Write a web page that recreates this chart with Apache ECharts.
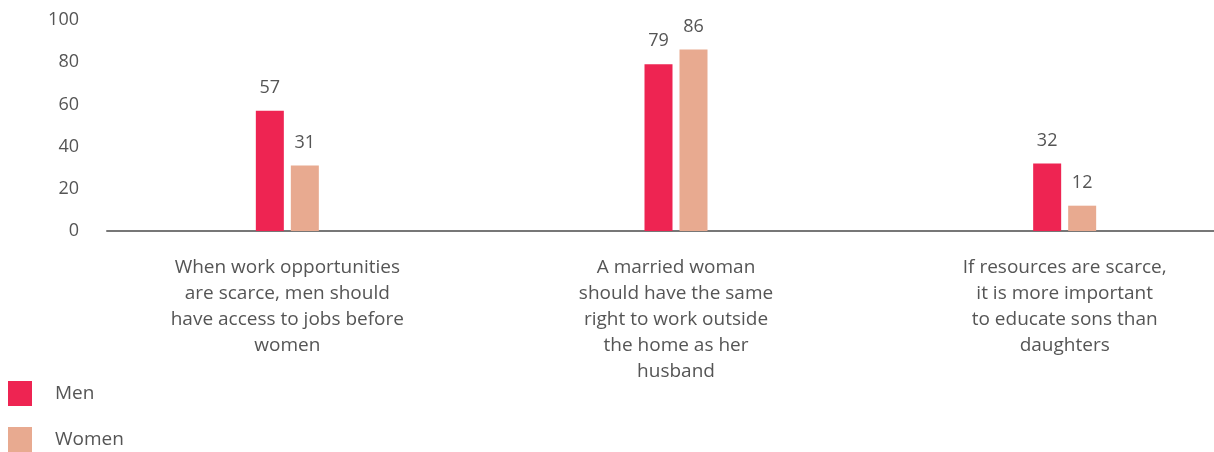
<!DOCTYPE html>
<html><head><meta charset="utf-8">
<script src="https://cdn.jsdelivr.net/npm/echarts@6/dist/echarts.min.js"></script>
<style>html,body{margin:0;padding:0;background:#fff}#c{width:1214px;height:452px}</style>
</head><body><div id="c"></div>
<script>
const categories = [
  "When work opportunities\nare scarce, men should\nhave access to jobs before\nwomen",
  "A married woman\nshould have the same\nright to work outside\nthe home as her\nhusband",
  "If resources are scarce,\nit is more important\nto educate sons than\ndaughters"
];
const menValues = [57, 79, 32];
const womenValues = [31, 86, 12];
const seriesNames = ["Men", "Women"];
const yTicks = { min: 0, max: 100, interval: 20 };

const FONT = "Open Sans";
const TXT = "#555555";
const chart = echarts.init(document.getElementById('c'));
chart.setOption({
  animation: false,
  textStyle: { fontFamily: FONT },
  legend: {
    orient: 'vertical', left: 8, top: 381, padding: 0,
    itemWidth: 24, itemHeight: 25, itemGap: 21,
    icon: 'rect',
    textStyle: { fontFamily: FONT, fontSize: 19, color: TXT, padding: [3, 0, 0, 18] },
    data: seriesNames
  },
  grid: [
    { left: 93, width: 1166, top: 20, bottom: 221, outerBoundsMode: 'none', containLabel: false },
    { left: 107, right: 0, top: 20, bottom: 221, outerBoundsMode: 'none' }
  ],
  xAxis: [
    {
      type: 'category', gridIndex: 0, data: categories,
      axisLine: { show: false }, axisTick: { show: false },
      axisLabel: { fontFamily: FONT, fontSize: 19, color: TXT, lineHeight: 26, margin: 24, interval: 0 }
    },
    {
      type: 'category', gridIndex: 1, data: [''],
      axisLine: { show: true, lineStyle: { color: '#777', width: 2 } },
      axisTick: { show: false }, axisLabel: { show: false }
    }
  ],
  yAxis: [
    {
      type: 'value', gridIndex: 0, min: yTicks.min, max: yTicks.max, interval: yTicks.interval,
      axisLine: { show: false }, axisTick: { show: false }, splitLine: { show: false },
      axisLabel: { fontFamily: FONT, fontSize: 18, color: TXT, margin: 14 }
    },
    { type: 'value', gridIndex: 1, show: false, min: 0, max: 100 }
  ],
  series: [
    {
      name: seriesNames[0], type: 'bar', data: menValues, barWidth: 28, barGap: '25%',
      itemStyle: { color: '#EE2452' },
      label: { show: true, position: 'top', distance: 14, fontFamily: FONT, fontSize: 18, color: TXT }
    },
    {
      name: seriesNames[1], type: 'bar', data: womenValues, barWidth: 28, barGap: '25%',
      itemStyle: { color: '#E8AA90' },
      label: { show: true, position: 'top', distance: 14, fontFamily: FONT, fontSize: 18, color: TXT }
    }
  ]
});
</script></body></html>
